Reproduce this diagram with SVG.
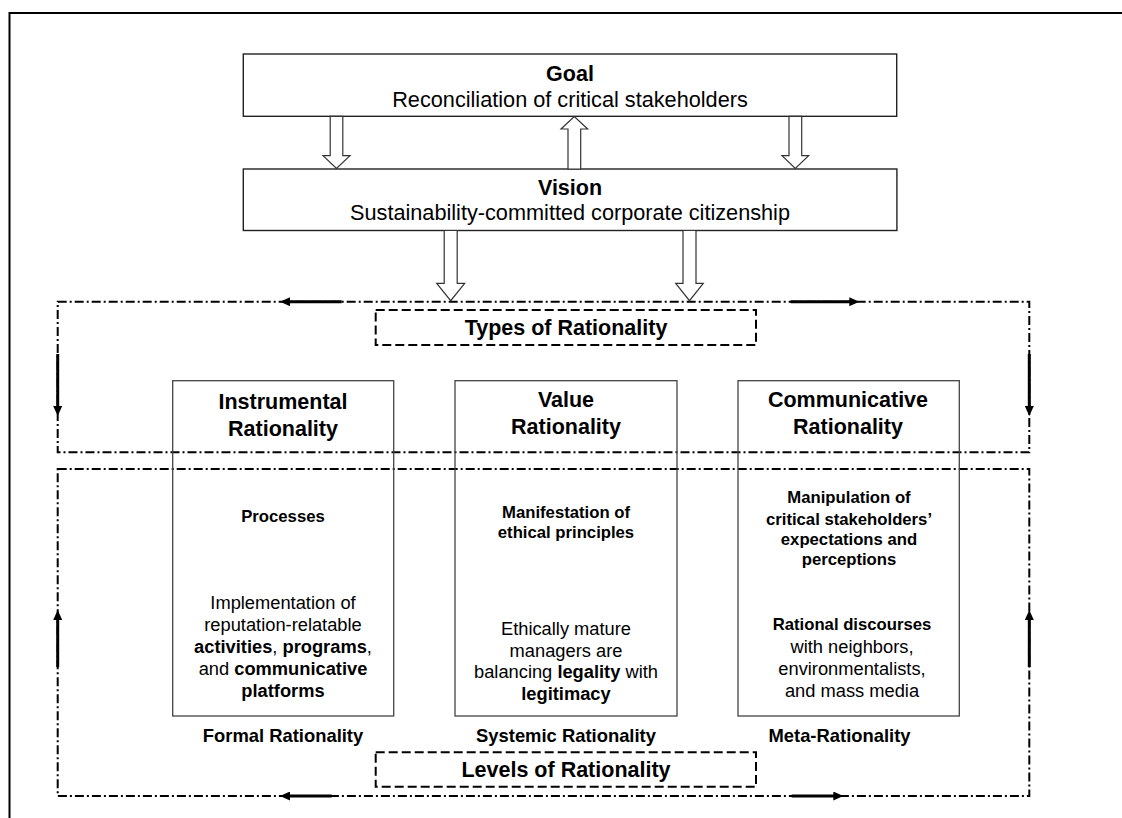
<svg xmlns="http://www.w3.org/2000/svg" width="1122" height="818" viewBox="0 0 1122 818">
<style>
text{font-family:"Liberation Sans",Arial,Helvetica,sans-serif;fill:#000;text-anchor:middle}
.t{font-size:21.5px;font-weight:bold}
.s{font-size:21.7px}
.h{font-size:16.7px;font-weight:bold}
.b{font-size:18.3px}
.l{font-size:18.4px;font-weight:bold}
.bx{fill:#fff;stroke:#222;stroke-width:1.4}
.col{fill:none;stroke:#444;stroke-width:1.3}
.ha{fill:#fff;stroke:#333;stroke-width:1.2;stroke-linejoin:miter}
.dd{fill:none;stroke:#000;stroke-width:2;stroke-dasharray:9 3 2 3}
.dsh{fill:none;stroke:#000;stroke-width:2;stroke-dasharray:9 4}
.arr{stroke:#000;stroke-width:3;fill:none}
</style>
<defs>
<marker id="ah" markerUnits="userSpaceOnUse" markerWidth="11" markerHeight="9" refX="2" refY="4.5" orient="auto">
<path d="M0,0 L10,4.5 L0,9 z" fill="#000"/>
</marker>
</defs>
<g id="frame">
<line x1="9" y1="13" x2="1122" y2="13" stroke="#000" stroke-width="2"/>
<line x1="9.5" y1="12" x2="9.5" y2="818" stroke="#000" stroke-width="2"/>
</g>
<g id="types-region">
<rect class="dd" x="57.7" y="301.7" width="971.6" height="150.6"/>
</g>
<g id="levels-region">
<rect class="dd" x="57.7" y="469" width="971.6" height="327"/>
</g>
<g id="goal">
<rect class="bx" x="243.3" y="54" width="653.4" height="62.3"/>
<text class="t" x="570" y="81">Goal</text>
<text class="s" x="570" y="107">Reconciliation of critical stakeholders</text>
</g>
<g id="vision">
<rect class="bx" x="243.3" y="169" width="653.6" height="61.5"/>
<text class="t" x="570" y="195">Vision</text>
<text class="s" x="570" y="220">Sustainability-committed corporate citizenship</text>
</g>
<g id="types">
<rect class="dsh" x="375.7" y="310" width="380.3" height="35"/>
<text class="t" x="566" y="335">Types of Rationality</text>
</g>
<g id="levels">
<rect class="dsh" x="375.7" y="752.3" width="380.3" height="34.4"/>
<text class="t" x="566" y="777">Levels of Rationality</text>
</g>
<g id="instrumental">
<rect class="col" x="172.7" y="380.7" width="221" height="335.3"/>
<text class="t" x="283" y="409">Instrumental</text>
<text class="t" x="283" y="435.5">Rationality</text>
<text class="h" x="283" y="521.5">Processes</text>
<text class="b" x="283" y="609">Implementation of</text>
<text class="b" x="283" y="631">reputation-relatable</text>
<text class="b" x="283" y="653"><tspan font-weight="bold">activities</tspan>, <tspan font-weight="bold">programs</tspan>,</text>
<text class="b" x="283" y="675">and <tspan font-weight="bold">communicative</tspan></text>
<text class="b" x="283" y="697" font-weight="bold">platforms</text>
<text class="l" x="283" y="742">Formal Rationality</text>
</g>
<g id="value">
<rect class="col" x="455" y="380.7" width="222" height="335.3"/>
<text class="t" x="566" y="407">Value</text>
<text class="t" x="566" y="433.5">Rationality</text>
<text class="h" x="566" y="518.3">Manifestation of</text>
<text class="h" x="566" y="538.3">ethical principles</text>
<text class="b" x="566" y="635">Ethically mature</text>
<text class="b" x="566" y="656.5">managers are</text>
<text class="b" x="566" y="678">balancing <tspan font-weight="bold">legality</tspan> with</text>
<text class="b" x="566" y="699.5" font-weight="bold">legitimacy</text>
<text class="l" x="566" y="742">Systemic Rationality</text>
</g>
<g id="communicative">
<rect class="col" x="738" y="380.7" width="221.3" height="335.3"/>
<text class="t" x="848" y="407">Communicative</text>
<text class="t" x="848" y="433.5">Rationality</text>
<text class="h" x="849" y="503.3">Manipulation of</text>
<text class="h" x="849" y="525">critical stakeholders’</text>
<text class="h" x="849" y="545">expectations and</text>
<text class="h" x="849" y="565">perceptions</text>
<text class="h" x="852" y="630">Rational discourses</text>
<text class="b" x="852" y="653">with neighbors,</text>
<text class="b" x="852" y="675">environmentalists,</text>
<text class="b" x="852" y="697">and mass media</text>
<text class="l" x="839.5" y="742">Meta-Rationality</text>
</g>
<g id="connectors">
<polygon class="ha" points="330.2,116.3 342.8,116.3 342.8,155.7 350,155.7 336.5,168.5 323,155.7 330.2,155.7"/>
<polygon class="ha" points="568,169 580.7,169 580.7,129 587.7,129 574.3,116.5 561,129 568,129"/>
<polygon class="ha" points="789,116.3 801.7,116.3 801.7,155.7 808.7,155.7 795.3,168.5 782,155.7 789,155.7"/>
<polygon class="ha" points="444.2,230.5 457.2,230.5 457.2,283.3 464.7,283.3 450.7,300.7 436.7,283.3 444.2,283.3"/>
<polygon class="ha" points="683,230.5 696,230.5 696,283.3 703.3,283.3 689.5,300.7 675.7,283.3 683,283.3"/>
<line class="arr" x1="341.7" y1="301.7" x2="288" y2="301.7" marker-end="url(#ah)"/>
<line class="arr" x1="790.7" y1="301.7" x2="851.3" y2="301.7" marker-end="url(#ah)"/>
<line class="arr" x1="57.7" y1="354" x2="57.7" y2="408" marker-end="url(#ah)"/>
<line class="arr" x1="1029.3" y1="354" x2="1029.3" y2="408" marker-end="url(#ah)"/>
<line class="arr" x1="57.7" y1="667" x2="57.7" y2="618" marker-end="url(#ah)"/>
<line class="arr" x1="1029.3" y1="667" x2="1029.3" y2="618" marker-end="url(#ah)"/>
<line class="arr" x1="331.7" y1="796" x2="288" y2="796" marker-end="url(#ah)"/>
<line class="arr" x1="791.7" y1="796" x2="835.3" y2="796" marker-end="url(#ah)"/>
</g>
</svg>
